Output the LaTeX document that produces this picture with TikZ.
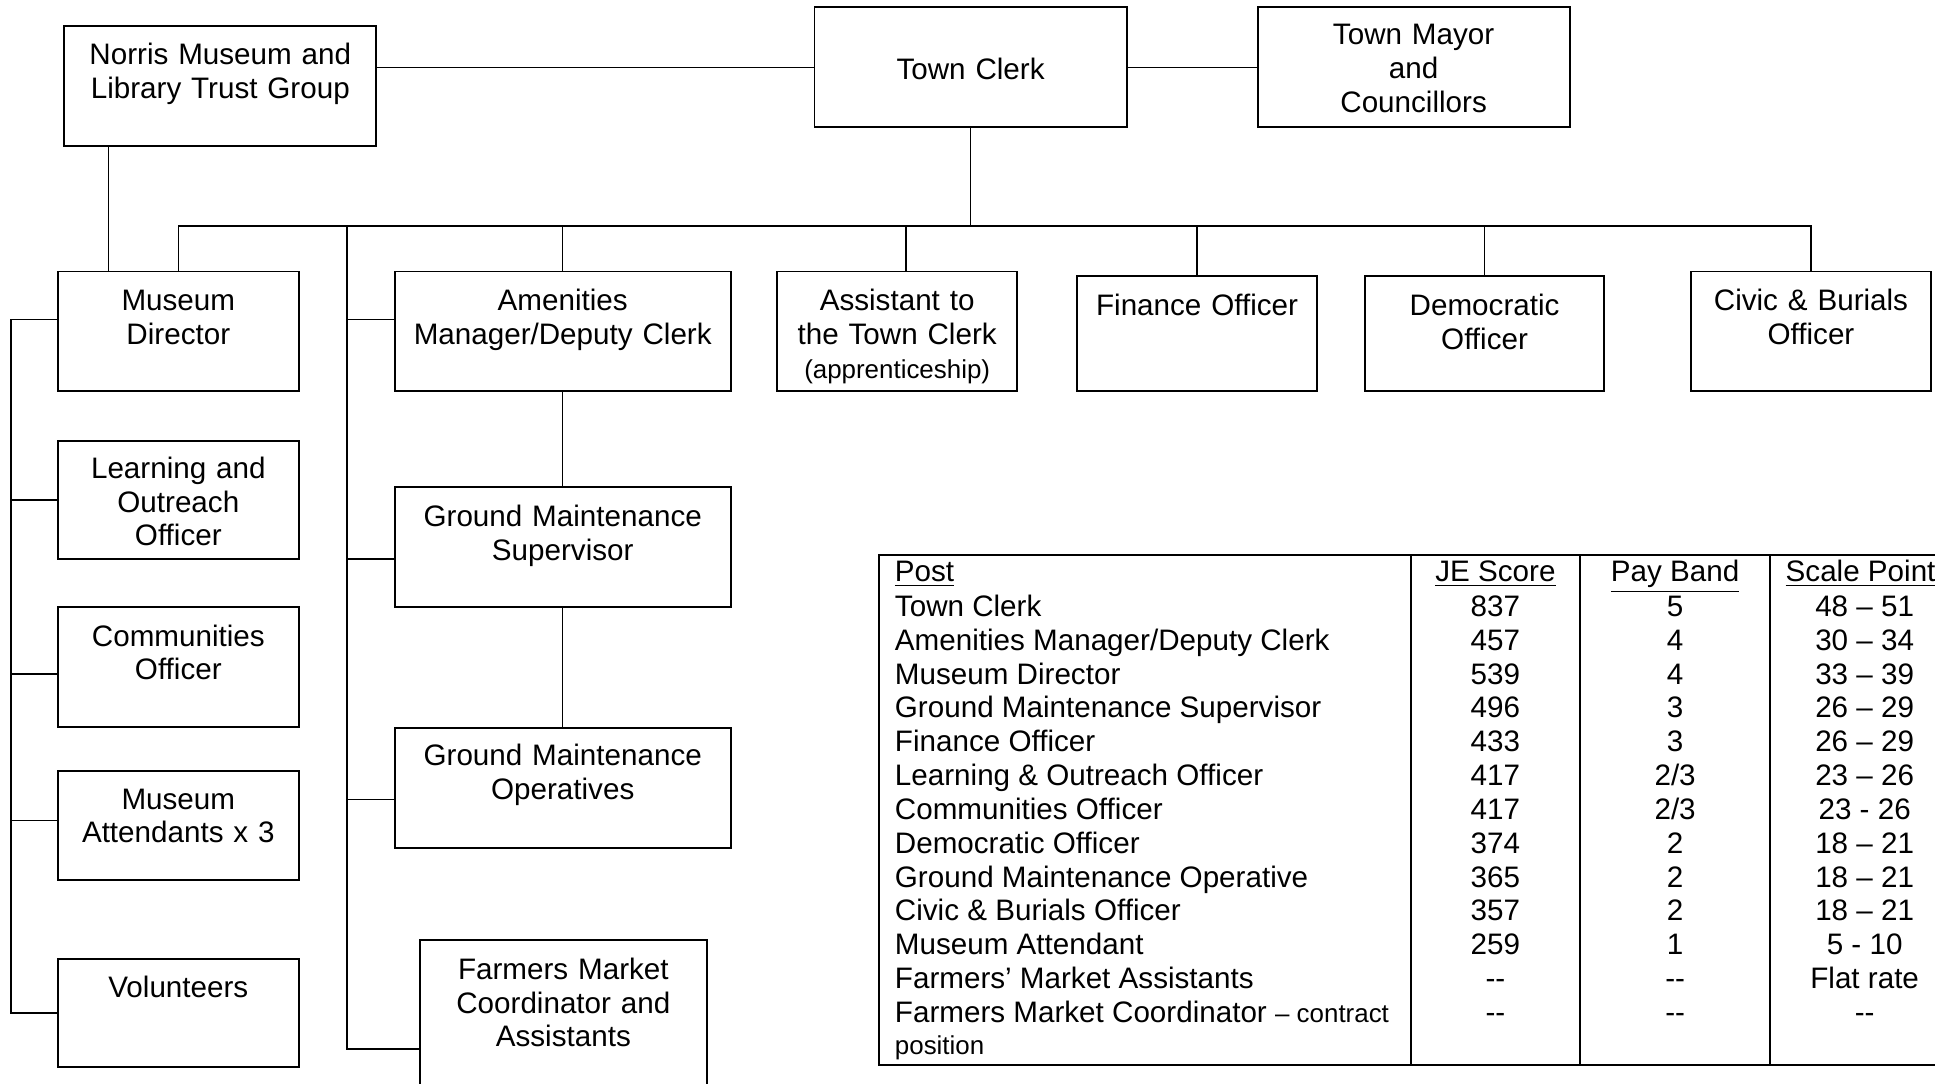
\documentclass[tikz,border=0pt]{standalone}
\usepackage{fontspec}
\setmainfont{Liberation Sans}[Ligatures=TeXOff]
\usepackage{array}
\usepackage{tikz}
\usetikzlibrary{positioning}
\setlength{\arrayrulewidth}{0.8pt}

\begin{document}
\begin{tikzpicture}[x=0.5pt,y=-0.5pt,line width=0.6pt]
      \tikzstyle{box}=[draw,line width=0.8pt,anchor=north west,inner sep=0pt,outer sep=0pt,align=center,
        text width=97.5pt,text height=15.8pt,text depth=32.7pt,font=\fontsize{12pt}{13.7pt}\selectfont]
      \useasboundingbox (0,0) rectangle (1568,878);
      % top row
      \node[box,text width=126.5pt] (nm) at (52,21) {Norris Museum and\\Library Trust Group};
      \node[box,text width=126.5pt,text height=29.3pt,text depth=19.2pt] (tc) at (660,6) {Town Clerk};
      \node[box,text width=126.5pt,text height=15pt,text depth=33.5pt] (tm) at (1019,6) {Town Mayor\\and\\Councillors};
      % posts under the town clerk
      \node[box] (md) at (47,220) {Museum\\Director};
      \node[box,text width=136pt] (am) at (320,220) {Amenities\\Manager/Deputy Clerk};
      \node[box,text width=97pt] (as) at (630,220) {Assistant to\\the Town Clerk\\{\fontsize{10.5pt}{13pt}\selectfont (apprenticeship)}};
      \node[box,text width=97pt,text depth=30.7pt] (fo) at (873,224) {Finance Officer};
      \node[box,text width=97pt,text depth=30.7pt] (do) at (1106,224) {Democratic\\Officer};
      \node[box] (civ) at (1370,220) {Civic \& Burials\\Officer};
      % museum staff
      \node[box,text height=15.3pt,text depth=32.7pt,below=20pt of md] (lo) {Learning and\\Outreach\\Officer};
      \node[box,below=19.5pt of lo] (co) {Communities\\Officer};
      \node[box,text height=15.3pt,text depth=28.7pt,below=18pt of co] (ma) {Museum\\Attendants x 3};
      \node[box,text depth=28.2pt,below=32pt of ma] (vol) {Volunteers};
      % amenities staff
      \node[box,text width=136pt,below=39pt of am] (gms) {Ground Maintenance\\Supervisor};
      \node[box,text width=136pt,text height=15.3pt,text depth=33.2pt,below=49pt of gms] (gmo) {Ground Maintenance\\Operatives};
      \node[box,text width=116.5pt,text depth=72.2pt] (fm) at (340,762) {Farmers Market\\Coordinator and\\Assistants};
      % connectors
      \draw (tc.west -| nm.east) -- (tc.west);
      \draw (tc) -- (tm);
      \draw ([xshift=18pt]nm.south west) -- ++(0,102);
      \draw (md.north) -- ++(0,-37) coordinate (bus) -| (civ.north);
      \draw (tc) -- (tc |- bus);
      \draw (am) -- (am |- bus);
      \draw ([xshift=3.5pt]as.north) -- ([xshift=3.5pt]as.north |- bus);
      \draw (fo) -- (fo |- bus);
      \draw (do) -- (do |- bus);
      \draw (am) -- (gms);
      \draw (gms) -- (gmo);
      \coordinate (arail) at (281,183);
      \draw (arail) |- (fm.west);
      \draw ([yshift=4.75pt]am.west) -- ([yshift=4.75pt]am.west -| arail);
      \draw ([yshift=-4.75pt]gms.west) -- ([yshift=-4.75pt]gms.west -| arail);
      \draw ([yshift=-4.75pt]gmo.west) -- ([yshift=-4.75pt]gmo.west -| arail);
      \coordinate (lrail) at (9,259);
      \draw ([yshift=4.75pt]md.west) -- (lrail) |- (vol.west);
      \draw (lo.west) -- (lo.west -| lrail);
      \draw ([yshift=-2.75pt]co.west) -- ([yshift=-2.75pt]co.west -| lrail);
      \draw ([yshift=2pt]ma.west) -- ([yshift=2pt]ma.west -| lrail);
      % pay table
      \node[anchor=north west,inner sep=0pt,font=\fontsize{12pt}{13.7pt}\selectfont] (tab) at (711,448) {%
        \begin{tabular}{|>{\raggedright\arraybackslash}p{202.5pt}|>{\centering\arraybackslash}p{56pt}|>{\centering\arraybackslash}p{64pt}|>{\centering\arraybackslash}p{64pt}|}
        \hline
        \rule{0pt}{10.6pt}\underline{Post} & \underline{JE Score} & \underline{Pay Band} & \underline{Scale Points}\\
        Town Clerk & 837 & 5 & 48 – 51\\
        Amenities Manager/Deputy Clerk & 457 & 4 & 30 – 34\\
        Museum Director & 539 & 4 & 33 – 39\\
        Ground Maintenance Supervisor & 496 & 3 & 26 – 29\\
        Finance Officer & 433 & 3 & 26 – 29\\
        Learning \& Outreach Officer & 417 & 2/3 & 23 – 26\\
        Communities Officer & 417 & 2/3 & 23 - 26\\
        Democratic Officer & 374 & 2 & 18 – 21\\
        Ground Maintenance Operative & 365 & 2 & 18 – 21\\
        Civic \& Burials Officer & 357 & 2 & 18 – 21\\
        Museum Attendant & 259 & 1 & 5 - 10\\
        Farmers’ Market Assistants & -- & -- & Flat rate\\
        \mbox{Farmers Market Coordinator {\fontsize{10.5pt}{13pt}\selectfont – contract}}\newline{\fontsize{10.5pt}{13pt}\selectfont position}\baselineskip=13pt & -- & -- & --\\
        \hline
        \end{tabular}};
    \end{tikzpicture}
\end{document}
